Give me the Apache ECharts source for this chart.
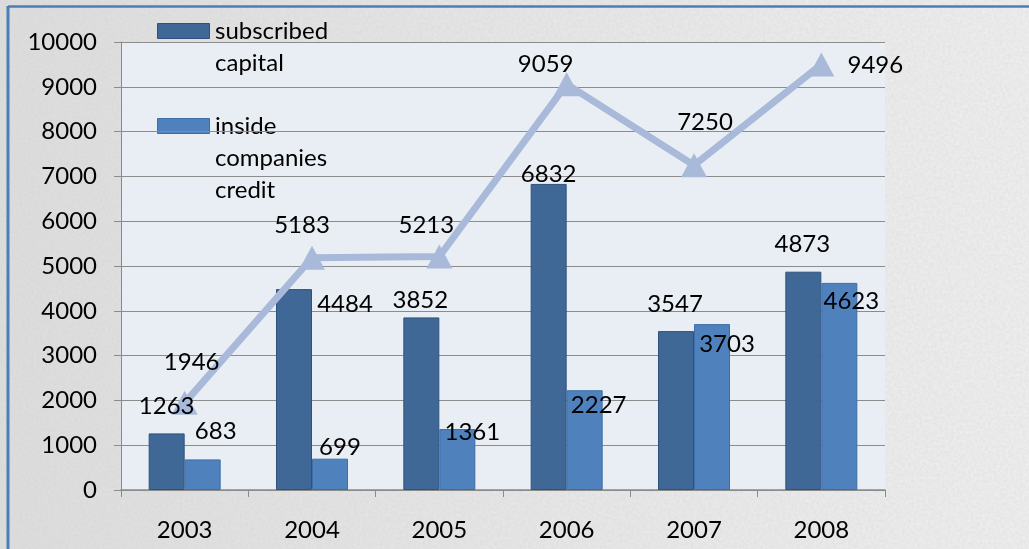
<!DOCTYPE html>
<html>
<head>
<meta charset="utf-8">
<script src="https://cdn.jsdelivr.net/npm/echarts@6/dist/echarts.min.js"></script>
<style>
html,body{margin:0;padding:0;width:1029px;height:549px;overflow:hidden;}
body{background:#e6e6e6 linear-gradient(90deg,#dedede 0%,#e8e8e8 50%,#f0f0f0 100%);}
#chart{width:1029px;height:549px;position:relative;}
#noise{position:absolute;left:0;top:0;width:1029px;height:549px;opacity:0.35;}
</style>
</head>
<body>
<svg id="noise" xmlns="http://www.w3.org/2000/svg"><filter id="f"><feTurbulence type="fractalNoise" baseFrequency="0.35" numOctaves="2" seed="3"/><feColorMatrix type="matrix" values="0 0 0 0 0.6  0 0 0 0 0.6  0 0 0 0 0.6  0 0 0 -1.2 1.1"/></filter><rect width="100%" height="100%" filter="url(#f)"/></svg>
<div id="chart" style="position:absolute;left:0;top:0;"></div>
<script>
// ---- data ----
const years = ['2003', '2004', '2005', '2006', '2007', '2008'];
const subscribedCapital = [1263, 4484, 3852, 6832, 3547, 4873];
const insideCompaniesCredit = [683, 699, 1361, 2227, 3703, 4623];
const totalValues = [1946, 5183, 5213, 9059, 7250, 9496];
const seriesNames = ['subscribed capital', 'inside companies credit', 'total'];
const legendLines = [['subscribed', 'capital'], ['inside', 'companies', 'credit']];

// ---- styling (label offsets, colours) ----
const colorDark = '#3f6897';
const colorLight = '#4f81bd';
const colorLine = '#a8b9d9';
const offSub = [[0,-27],[51,15],[-1,-17],[0,-10],[-1,-27],[-1,-27]];
const offIns = [[13,-28],[10,-11],[15,3],[14,15],[15,20],[12,18]];
const offTot = [[7,-41],[-10,-33],[-13,-31],[-21,-20],[11,-43],[54,1]];
const FONT = 'Lato, "Open Sans", sans-serif';
const FS = 24;

function itemData(vals, offs) {
  return vals.map((v, i) => ({
    value: v,
    label: { offset: offs[i] }
  }));
}

const chart = echarts.init(document.getElementById('chart'), null, {renderer: 'canvas'});
const labelBase = {
  show: true, fontFamily: FONT, fontSize: FS, color: '#000',
  align: 'center', verticalAlign: 'middle'
};

const legendGraphics = [];
const legendColors = [colorDark, colorLight];
const legendTops = [23, 118];
legendLines.forEach((lines, k) => {
  legendGraphics.push({
    type: 'rect', left: 157, top: legendTops[k],
    shape: {width: 52, height: 15},
    style: {fill: legendColors[k], stroke: k === 0 ? '#2f527c' : '#3d6ea8', lineWidth: 1}
  });
  legendGraphics.push({
    type: 'text', left: 215, top: legendTops[k] + 8 - 16,
    style: {text: lines.join('\n'), font: FS + 'px ' + FONT, fill: '#000', lineHeight: 32}
  });
});

const xAxisBase = {
  type: 'category',
  data: years,
  axisLine: {lineStyle: {color: '#8a8a8a', width: 1.5}},
  axisTick: {show: true, alignWithLabel: false, length: 7, lineStyle: {color: '#8a8a8a'}},
  axisLabel: {fontFamily: FONT, fontSize: FS, color: '#000', margin: 28}
};

const option = {
  animation: false,
  backgroundColor: 'transparent',
  grid: {
    left: 121, right: 144, top: 42, bottom: 59,
    show: true, backgroundColor: '#e9edf4', borderWidth: 0
  },
  graphic: [
    {type: 'line', shape: {x1: 8, y1: 6.5, x2: 1029, y2: 6.5}, style: {stroke: '#4a7ebb', lineWidth: 2.5}},
    {type: 'line', shape: {x1: 8, y1: 6, x2: 8, y2: 549}, style: {stroke: '#4a7ebb', lineWidth: 3}}
  ].concat(legendGraphics),
  legend: {show: false},
  xAxis: [
    xAxisBase,
    Object.assign({}, xAxisBase, {show: false, position: 'bottom'})
  ],
  yAxis: {
    type: 'value',
    min: 0, max: 10000, interval: 1000,
    axisLine: {show: true, lineStyle: {color: '#8a8a8a', width: 1}},
    axisTick: {show: true, inside: false, length: 7, lineStyle: {color: '#8a8a8a'}},
    axisLabel: {fontFamily: FONT, fontSize: FS, color: '#000', margin: 24, formatter: v => String(v)},
    splitLine: {lineStyle: {color: '#8c8c8c', width: 1}}
  },
  series: [
    {
      name: seriesNames[0], type: 'bar', barWidth: 36, barGap: '0%', xAxisIndex: 0,
      itemStyle: {color: colorDark, borderColor: '#2f527c', borderWidth: 1},
      data: subscribedCapital, z: 2
    },
    {
      name: seriesNames[1], type: 'bar', barWidth: 36, barGap: '0%', xAxisIndex: 0,
      itemStyle: {color: colorLight, borderColor: '#3d6ea8', borderWidth: 1},
      data: insideCompaniesCredit, z: 2
    },
    {
      name: seriesNames[2], type: 'line', z: 3, xAxisIndex: 0,
      symbol: 'triangle', symbolSize: [26, 24],
      lineStyle: {color: colorLine, width: 7},
      itemStyle: {color: colorLine},
      label: Object.assign({}, labelBase, {position: 'inside'}),
      data: itemData(totalValues, offTot)
    },
    // label carriers for the bars, drawn above the line
    {
      name: seriesNames[0] + ' labels', type: 'bar', barWidth: 36, barGap: '0%', xAxisIndex: 1,
      itemStyle: {color: 'rgba(0,0,0,0)'}, silent: true,
      label: Object.assign({}, labelBase, {position: 'top', distance: 0}),
      data: itemData(subscribedCapital, offSub), z: 6
    },
    {
      name: seriesNames[1] + ' labels', type: 'bar', barWidth: 36, barGap: '0%', xAxisIndex: 1,
      itemStyle: {color: 'rgba(0,0,0,0)'}, silent: true,
      label: Object.assign({}, labelBase, {position: 'top', distance: 0}),
      data: itemData(insideCompaniesCredit, offIns), z: 6
    }
  ]
};
chart.setOption(option);
</script>
</body>
</html>
